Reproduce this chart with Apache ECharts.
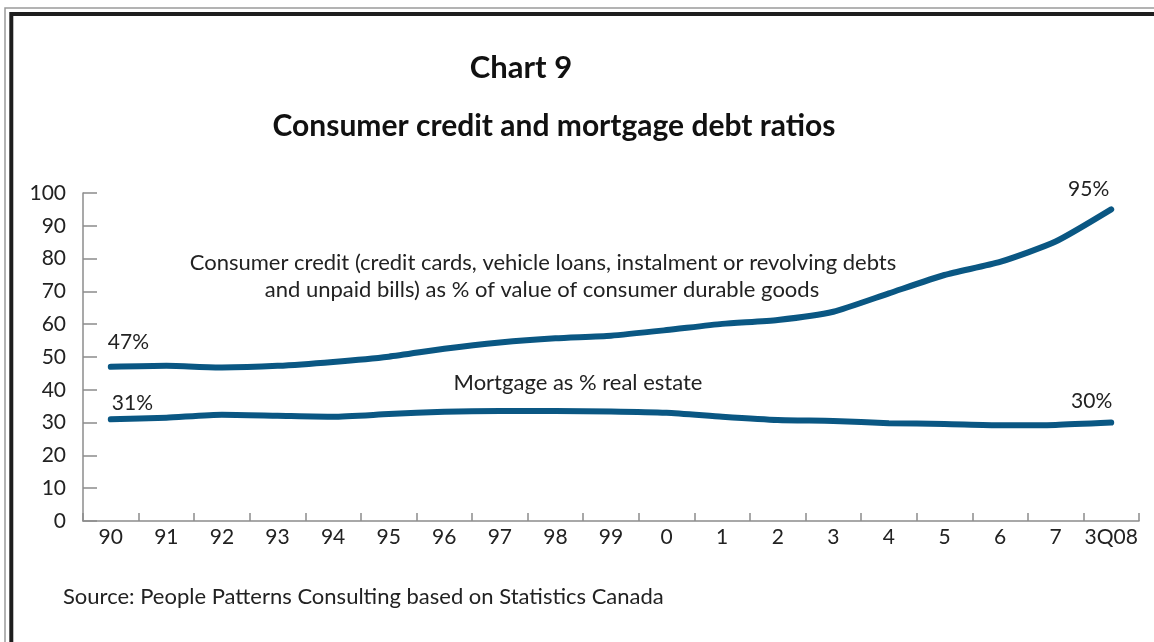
<!DOCTYPE html>
<html>
<head>
<meta charset="utf-8">
<title>Consumer credit and mortgage debt ratios</title>
<script src="https://cdn.jsdelivr.net/npm/echarts@6/dist/echarts.min.js"></script>
<style>
  html, body { margin: 0; padding: 0; background: #ffffff; }
  #chart { width: 1154px; height: 642px; }
</style>
</head>
<body>
<div id="chart"></div>
<script>
// Years 1990-2007 plus the third quarter of 2008
const categories = ['90', '91', '92', '93', '94', '95', '96', '97', '98', '99',
                    '0', '1', '2', '3', '4', '5', '6', '7', '3Q08'];

// Consumer credit as % of value of consumer durable goods
const consumerCredit = [47, 47.3, 46.8, 47.3, 48.5, 50.1, 52.5, 54.4, 55.7, 56.5,
                        58.2, 60.1, 61.3, 63.8, 69.4, 75.0, 79.0, 85.2, 95];

// Mortgage as % of real estate
const mortgage = [31, 31.5, 32.4, 32.1, 31.8, 32.6, 33.3, 33.5, 33.5, 33.4,
                  33.0, 31.8, 30.8, 30.5, 29.8, 29.6, 29.2, 29.3, 30];

const yTicks = { min: 0, max: 100, interval: 10 };

const FONT = 'Lato, "Noto Sans", sans-serif';
const LINE_COLOR = '#0a5783';
const TEXT_COLOR = '#222222';
const AXIS_COLOR = '#8c8c8c';

// Put a value label on the first and last points of a series only
function labelled(values, firstLabel, lastLabel) {
  return values.map(function (v, i) {
    if (i === 0) return { value: v, label: Object.assign({ show: true }, firstLabel) };
    if (i === values.length - 1) return { value: v, label: Object.assign({ show: true }, lastLabel) };
    return v;
  });
}

const pointLabel = {
  position: 'inside',
  verticalAlign: 'middle',
  fontFamily: FONT,
  fontSize: 21,
  color: TEXT_COLOR,
  formatter: function (p) { return p.value + '%'; }
};

function lineSeries(name, data) {
  return {
    name: name,
    type: 'line',
    data: data,
    smooth: 0.2,
    symbol: 'circle',
    symbolSize: 1,
    showSymbol: true,
    showAllSymbol: true,
    itemStyle: { color: LINE_COLOR },
    lineStyle: { color: LINE_COLOR, width: 6, cap: 'round', join: 'round' },
    label: Object.assign({ show: false }, pointLabel),
    emphasis: { disabled: true },
    animation: false
  };
}

const chart = echarts.init(document.getElementById('chart'), null, { renderer: 'canvas' });

chart.setOption({
  backgroundColor: '#ffffff',
  animation: false,
  title: [
    {
      text: 'Chart 9',
      left: 516, top: 47, textAlign: 'center',
      textStyle: { fontFamily: FONT, fontWeight: 'bold', fontSize: 31, color: '#111111' }
    },
    {
      text: 'Consumer credit and mortgage debt ratios',
      left: 549, top: 106, textAlign: 'center',
      textStyle: { fontFamily: FONT, fontWeight: 'bold', fontSize: 30, color: '#111111' }
    }
  ],
  grid: { left: 83, right: 15, top: 193, bottom: 121, containLabel: false },
  xAxis: {
    type: 'category',
    data: categories,
    boundaryGap: true,
    axisLine: { lineStyle: { color: AXIS_COLOR, width: 1.5 } },
    axisTick: { show: true, inside: true, length: 8, alignWithLabel: false,
                lineStyle: { color: AXIS_COLOR, width: 1.5 } },
    axisLabel: { margin: 6, fontFamily: FONT, fontSize: 21, color: TEXT_COLOR, interval: 0 },
    splitLine: { show: false }
  },
  yAxis: {
    type: 'value',
    min: yTicks.min, max: yTicks.max, interval: yTicks.interval,
    axisLine: { show: true, lineStyle: { color: AXIS_COLOR, width: 1.5 } },
    axisTick: { show: true, inside: true, length: 14, lineStyle: { color: AXIS_COLOR, width: 1.5 } },
    axisLabel: { margin: 17, fontFamily: FONT, fontSize: 21, color: TEXT_COLOR },
    splitLine: { show: false }
  },
  series: [
    lineSeries('Consumer credit', labelled(consumerCredit,
      { align: 'left', offset: [-3, -25] },
      { align: 'right', offset: [-2, -20] })),
    lineSeries('Mortgage', labelled(mortgage,
      { align: 'left', offset: [1, -16] },
      { align: 'right', offset: [1, -21] }))
  ],
  graphic: [
    // double frame round the chart
    { type: 'rect', silent: true, z: 100,
      shape: { x: 5, y: 8, width: 1300, height: 800 },
      style: { fill: 'none', stroke: '#9a9a9a', lineWidth: 1.5 } },
    { type: 'rect', silent: true, z: 100,
      shape: { x: 11.3, y: 14, width: 1300, height: 800 },
      style: { fill: 'none', stroke: '#1e1e1e', lineWidth: 4 } },
    // series annotations
    { type: 'text', silent: true, x: 543, y: 263,
      style: { text: 'Consumer credit (credit cards, vehicle loans, instalment or revolving debts',
               font: '22px ' + FONT, fill: TEXT_COLOR, align: 'center', verticalAlign: 'middle' } },
    { type: 'text', silent: true, x: 542, y: 290,
      style: { text: 'and unpaid bills) as % of value of consumer durable goods',
               font: '22px ' + FONT, fill: TEXT_COLOR, align: 'center', verticalAlign: 'middle' } },
    { type: 'text', silent: true, x: 578, y: 383,
      style: { text: 'Mortgage as % real estate',
               font: '22px ' + FONT, fill: TEXT_COLOR, align: 'center', verticalAlign: 'middle' } },
    // source note
    { type: 'text', silent: true, x: 63, y: 597,
      style: { text: 'Source: People Patterns Consulting based on Statistics Canada',
               font: '22px ' + FONT, fill: TEXT_COLOR, align: 'left', verticalAlign: 'middle' } }
  ]
});
</script>
</body>
</html>
